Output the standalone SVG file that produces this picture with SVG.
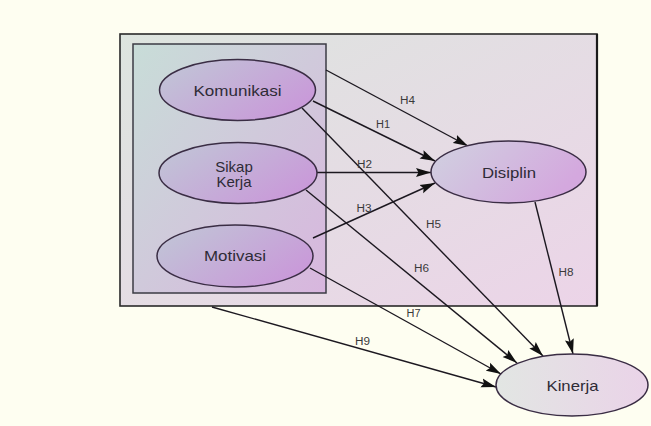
<svg xmlns="http://www.w3.org/2000/svg" width="651" height="426" viewBox="0 0 651 426">
  <style>
    .node { stroke: #3a2d44; stroke-width: 1.5; }
    .lbl { font-family: "Liberation Sans", Arial, sans-serif; font-size: 15px; fill: #2e2b36; text-anchor: middle; }
    .h { font-family: "Liberation Sans", Arial, sans-serif; font-size: 10px; fill: #3a3a3a; text-anchor: middle; }
    .edge { stroke: #1c1820; stroke-width: 1.4; fill: none; marker-end: url(#arrow); }
  </style>
  <defs>
    <marker id="arrow" markerUnits="userSpaceOnUse" markerWidth="16" markerHeight="10" refX="15" refY="5" orient="auto">
      <path d="M0,0.5 L15,5 L0,9.5 L2.5,5 z" fill="#111111"/>
    </marker>
    <linearGradient id="outerFill" x1="0" y1="0" x2="1" y2="1">
      <stop offset="0" stop-color="#dde5df"/>
      <stop offset="1" stop-color="#ecd4e8"/>
    </linearGradient>
    <linearGradient id="innerFill" x1="0" y1="0" x2="1" y2="1">
      <stop offset="0" stop-color="#c8ddd8"/>
      <stop offset="1" stop-color="#d8b6de"/>
    </linearGradient>
    <linearGradient id="varFill" x1="0" y1="0" x2="1" y2="0.6">
      <stop offset="0" stop-color="#c0c8d6"/>
      <stop offset="1" stop-color="#c99ad9"/>
    </linearGradient>
    <linearGradient id="disFill" x1="0" y1="0" x2="1" y2="0.4">
      <stop offset="0" stop-color="#d0d2e0"/>
      <stop offset="1" stop-color="#d4a8de"/>
    </linearGradient>
    <linearGradient id="kinFill" x1="0" y1="0" x2="1" y2="0">
      <stop offset="0" stop-color="#e2e6e3"/>
      <stop offset="1" stop-color="#ead3e8"/>
    </linearGradient>
  </defs>

  <rect width="651" height="426" fill="#fefef1"/>

  <!-- outer frame: all exogenous variables plus Disiplin -->
  <g id="frame-outer">
    <rect x="120" y="34" width="477" height="272" fill="url(#outerFill)" stroke="#2a2a2a" stroke-width="1.6"/>
    <line x1="597" y1="34" x2="597" y2="306" stroke="#1a1a1a" stroke-width="2.2"/>
  </g>

  <!-- inner frame: exogenous variables -->
  <g id="frame-inner">
    <rect x="133" y="44" width="193" height="249" fill="url(#innerFill)" stroke="#3b3b44" stroke-width="1.5"/>
  </g>

  <g id="connectors">
    <line class="edge" x1="326" y1="70" x2="468" y2="146"/>
    <line class="edge" x1="313" y1="101" x2="435" y2="161"/>
    <line class="edge" x1="317" y1="172.5" x2="431" y2="172.5"/>
    <line class="edge" x1="313" y1="238" x2="435" y2="183"/>
    <line class="edge" x1="302" y1="108" x2="543" y2="356"/>
    <line class="edge" x1="306" y1="190" x2="517" y2="363"/>
    <line class="edge" x1="310" y1="268" x2="501" y2="374"/>
    <line class="edge" x1="535" y1="202" x2="573" y2="354"/>
    <line class="edge" x1="212" y1="307" x2="496" y2="387"/>
    <text class="h" x="407.5" y="104" textLength="15" lengthAdjust="spacingAndGlyphs">H4</text>
    <text class="h" x="383" y="128" textLength="14" lengthAdjust="spacingAndGlyphs">H1</text>
    <text class="h" x="364.5" y="168" textLength="15" lengthAdjust="spacingAndGlyphs">H2</text>
    <text class="h" x="364" y="212" textLength="15" lengthAdjust="spacingAndGlyphs">H3</text>
    <text class="h" x="433.5" y="228" textLength="15" lengthAdjust="spacingAndGlyphs">H5</text>
    <text class="h" x="421.5" y="272" textLength="15" lengthAdjust="spacingAndGlyphs">H6</text>
    <text class="h" x="566" y="276" textLength="15" lengthAdjust="spacingAndGlyphs">H8</text>
    <text class="h" x="413.5" y="317" textLength="14" lengthAdjust="spacingAndGlyphs">H7</text>
    <text class="h" x="362.5" y="345" textLength="15" lengthAdjust="spacingAndGlyphs">H9</text>
  </g>

  <g id="komunikasi">
    <ellipse class="node" cx="237.5" cy="90" rx="78" ry="30.5" fill="url(#varFill)"/>
    <text class="lbl" x="237.5" y="96" textLength="88" lengthAdjust="spacingAndGlyphs">Komunikasi</text>
  </g>

  <g id="sikap-kerja">
    <ellipse class="node" cx="238" cy="173" rx="79" ry="30.5" fill="url(#varFill)"/>
    <text class="lbl" x="234" y="171.5">Sikap</text>
    <text class="lbl" x="234" y="187">Kerja</text>
  </g>

  <g id="motivasi">
    <ellipse class="node" cx="235" cy="256" rx="78" ry="31" fill="url(#varFill)"/>
    <text class="lbl" x="235" y="261" textLength="62" lengthAdjust="spacingAndGlyphs">Motivasi</text>
  </g>

  <g id="disiplin">
    <ellipse class="node" cx="508.5" cy="172" rx="77.5" ry="31" fill="url(#disFill)"/>
    <text class="lbl" x="509" y="177.5" textLength="54" lengthAdjust="spacingAndGlyphs">Disiplin</text>
  </g>

  <g id="kinerja">
    <ellipse class="node" cx="572" cy="385" rx="76" ry="31" fill="url(#kinFill)"/>
    <text class="lbl" x="572.5" y="390.5" textLength="52" lengthAdjust="spacingAndGlyphs">Kinerja</text>
  </g>
</svg>
